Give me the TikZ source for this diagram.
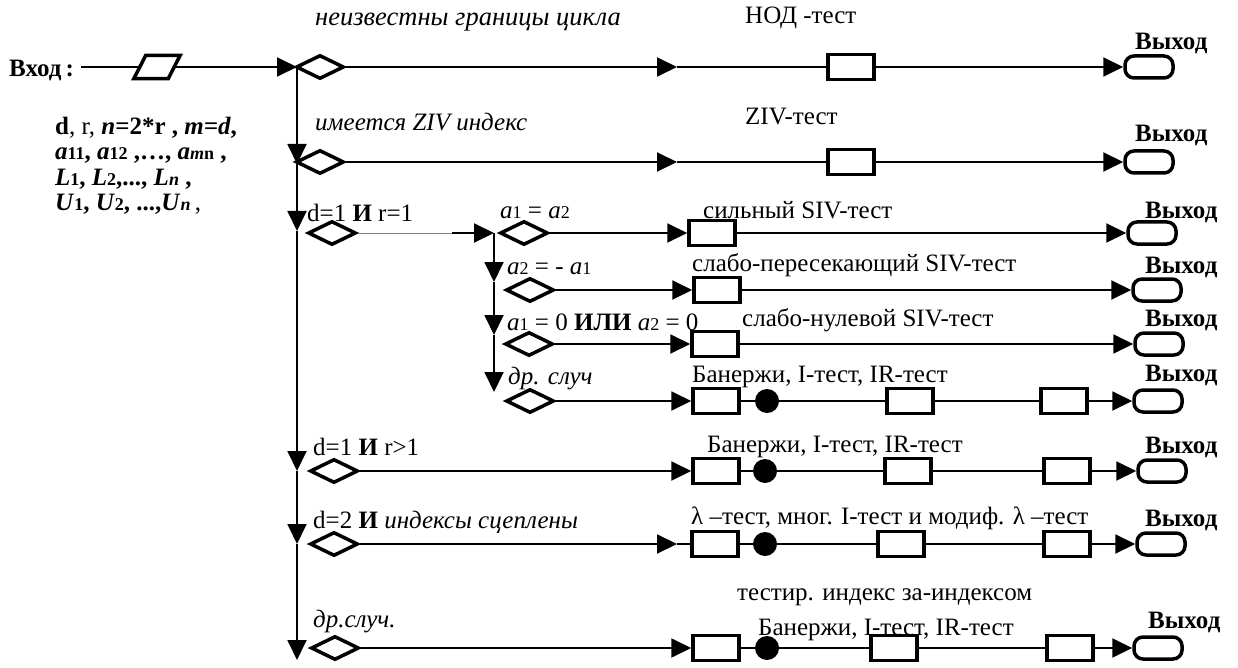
\documentclass[tikz,border=0pt]{standalone}
\usepackage{fontspec}
\setmainfont{Liberation Serif}
\usetikzlibrary{arrows.meta,shapes.geometric}
\newcommand\subnum[1]{{\fontsize{18}{20}\selectfont #1}}

\begin{document}
\begin{tikzpicture}[x=1pt,y=-1pt,
  every node/.style={font=\fontsize{25}{28}\selectfont, inner sep=0pt},
  lbl/.style={anchor=west},
  link/.style={line width=1.9pt},
  arr/.style={link,-{Triangle[length=20pt,width=19pt]}},
  cond/.style={draw,diamond,line width=3.5pt,minimum width=48pt,minimum height=24pt},
  proc/.style={draw,rectangle,line width=3.5pt,minimum width=46pt,minimum height=25pt},
  inout/.style={rectangle,minimum width=46pt,minimum height=23pt},
  exitbox/.style={draw,rectangle,rounded corners=9pt,line width=3.5pt,minimum width=48pt,minimum height=22pt},
  joint/.style={circle,fill,minimum size=24pt}]
  \useasboundingbox (0,0) rectangle (1238,668);

  % input
  \node[lbl] (inlbl) at (9,70) {\bfseries Вход\,:};
  \node[lbl,align=left,font=\fontsize{25}{25.5}\selectfont] (param) at (55,166)
    {\textbf{d}, r, \textbf{\textit{n}=2*r , \textit{m=d},}\\
     \textbf{\textit{a}\subnum{11}, \textit{a}\subnum{12} ,…, \textit{a}\subnum{\textit{m}n} ,}\\
     \textbf{\textit{L}\subnum{1}, \textit{L}\subnum{2},..., \textit{L}\subnum{\textit{n}} ,}\\
     \textbf{\textit{U}\subnum{1}, \textit{U}\subnum{2}, ...,\textit{U}\subnum{\textit{n}}}\,,};
  \node[inout] (io) at (157,67) {};
  \draw[line width=3.5pt] ([xshift=12pt]io.north west) -- (io.north east)
    -- ([xshift=-12pt]io.south east) -- (io.south west) -- cycle;

  % main column
  \coordinate (j1) at (297,67);
  \coordinate (j2) at (297,164);
  \coordinate (j3) at (297,231);
  \coordinate (j7) at (297,471);
  \coordinate (j8) at (297,544);
  \coordinate (j9) at (297,660);
  \draw[link] ([xshift=7pt]inlbl.east |- io.west) -- ([xshift=6pt]io.west);
  \draw[arr] ([xshift=-6pt]io.east) -- (j1);
  \draw[arr] (j1) -- (j2);
  \draw[arr] (j2) -- (j3);
  \draw[arr] (j3) -- (j7);
  \draw[arr] (j7) -- (j8);
  \draw[arr] (j8) -- (j9);

  \node[cond] (c1) at (320,67) {};
  \node[cond] (c2) at (320,162) {};
  \node[cond] (c3) at (332,233) {};
  \node[cond] (c7) at (334,471) {};
  \node[cond] (c8) at (334,544) {};
  \node[cond] (c9) at (335,648) {};

  % sub column
  \coordinate (g3) at (452,233);
  \coordinate (s3) at (494,233);
  \coordinate (s4) at (494,282);
  \coordinate (s5) at (494,335);
  \coordinate (s6) at (494,392);
  \draw[line width=0.8pt,gray] (c3) -- (g3);
  \draw[arr] (g3) -- (s3);
  \draw[arr] (s3) -- (s4);
  \draw[arr] (s4) -- (s5);
  \draw[arr] (s5) -- (s6);
  \node[cond] (a3) at (524,233) {};
  \node[cond] (a4) at (530,290) {};
  \node[cond] (a5) at (529,344) {};
  \node[cond] (a6) at (530,401) {};

  % tests
  \node[proc] (t1) at (851,67) {};
  \node[proc] (t2) at (851,162) {};
  \node[proc] (t3) at (712,233) {};
  \node[proc] (t4) at (717,290) {};
  \node[proc] (t5) at (715,344) {};
  \node[proc] (t6a) at (716,401) {};
  \node[joint] (d6) at (767,401) {};
  \node[proc] (t6b) at (910,401) {};
  \node[proc] (t6c) at (1064,401) {};
  \node[proc] (t7a) at (716,471) {};
  \node[joint] (d7) at (765,471) {};
  \node[proc] (t7b) at (908,471) {};
  \node[proc] (t7c) at (1067,471) {};
  \node[proc] (t8a) at (715,544) {};
  \node[joint] (d8) at (765,544) {};
  \node[proc] (t8b) at (901,544) {};
  \node[proc] (t8c) at (1067,544) {};
  \node[proc] (t9a) at (716,648) {};
  \node[joint] (d9) at (767,648) {};
  \node[proc] (t9b) at (894,648) {};
  \node[proc] (t9c) at (1070,648) {};

  % exits
  \node[exitbox] (x1) at (1149,67) {};
  \node[exitbox] (x2) at (1149,162) {};
  \node[exitbox] (x3) at (1152,233) {};
  \node[exitbox] (x4) at (1157,290) {};
  \node[exitbox] (x5) at (1159,344) {};
  \node[exitbox] (x6) at (1158,401) {};
  \node[exitbox] (x7) at (1162,471) {};
  \node[exitbox] (x8) at (1161,544) {};
  \node[exitbox] (x9) at (1158,648) {};

  % rows
  \coordinate (m1) at (677,67);
  \coordinate (m2) at (677,162);
  \coordinate (m8) at (677,544);
  \draw[arr] (c1) -- (m1);
  \draw[link] (m1) -- (t1);
  \draw[arr] (t1) -- (x1);
  \draw[arr] (c2) -- (m2);
  \draw[link] (m2) -- (t2);
  \draw[arr] (t2) -- (x2);
  \draw[arr] (a3) -- (t3);
  \draw[arr] (t3) -- (x3);
  \draw[arr] (a4) -- (t4);
  \draw[arr] (t4) -- (x4);
  \draw[arr] (a5) -- (t5);
  \draw[arr] (t5) -- (x5);
  \draw[arr] (a6) -- (t6a);
  \draw[link] (t6a) -- (d6) -- (t6b) -- (t6c);
  \draw[arr] (t6c) -- (x6);
  \draw[arr] (c7) -- (t7a);
  \draw[link] (t7a) -- (d7) -- (t7b) -- (t7c);
  \draw[arr] (t7c) -- (x7);
  \draw[arr] (c8) -- (m8);
  \draw[link] (m8) -- (t8a);
  \draw[link] (t8a) -- (d8) -- (t8b) -- (t8c);
  \draw[arr] (t8c) -- (x8);
  \draw[arr] (c9) -- (t9a);
  \draw[link] (t9a) -- (d9) -- (t9b) -- (t9c);
  \draw[arr] (t9c) -- (x9);

  % labels
  \node[lbl] (l1) at (315,22) {\fontsize{26.5}{28}\selectfont\itshape неизвестны границы цикла};
  \node[lbl] (n1) at (745,18) {НОД -тест};
  \node[lbl] (l2) at (315,122) {\itshape имеется ZIV индекс};
  \node[lbl] (n2) at (745,117) {ZIV-тест};
  \node[lbl] (l3) at (307,213) {d=1 \textbf{И} r=1};
  \node[lbl] (k3) at (500,213) {\textit{a}\subnum{1} = \textit{a}\subnum{2}};
  \node[lbl] (n3) at (703,210) {сильный SIV-тест};
  \node[lbl] (k4) at (507,269) {\textit{a}\subnum{2} = - \textit{a}\subnum{1}};
  \node[lbl] (n4) at (692,265) {слабо-пересекающий SIV-тест};
  \node[lbl] (k5) at (507,322) {\textit{a}\subnum{1} = 0 \textbf{ИЛИ} \textit{a}\subnum{2} = 0};
  \node[lbl] (n5) at (742,320) {слабо-нулевой SIV-тест};
  \node[lbl] (k6) at (508,379) {\itshape др. случ};
  \node[lbl] (n6) at (692,377) {Банержи, I-тест, IR-тест};
  \node[lbl] (l7) at (313,447) {d=1 \textbf{И} r>1};
  \node[lbl] (n7) at (707,447) {Банержи, I-тест, IR-тест};
  \node[lbl] (l8) at (313,522) {d=2 \textbf{И} \itshape индексы сцеплены};
  \node[lbl] (n8) at (691,518) {λ –тест, мног. I-тест и модиф. λ –тест};
  \node[lbl] (l9) at (313,622) {\itshape др.случ.};
  \node[lbl] (n9) at (737,597) {тестир. индекс за-индексом};
  \node[lbl] (p9) at (758,630) {Банержи, I-тест, IR-тест};
  \foreach \nm/\xx/\yy in {e1/1135/43, e2/1135/135, e3/1145/212, e4/1145/267, e5/1145/320,
      e6/1145/375, e7/1145/447, e8/1145/520, e9/1148/622}
    \node[lbl] (\nm) at (\xx,\yy) {\bfseries Выход};
\end{tikzpicture}
\end{document}
